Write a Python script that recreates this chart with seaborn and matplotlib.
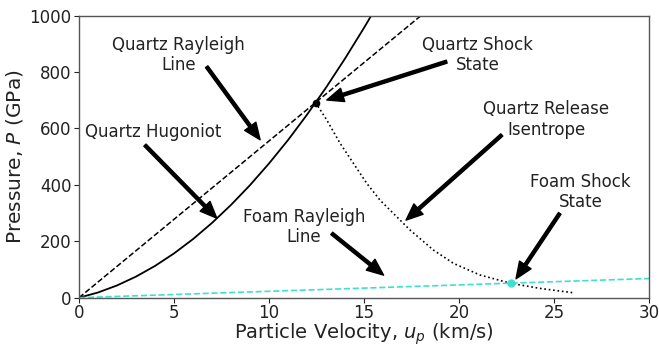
import numpy as np
import pandas as pd
import matplotlib
matplotlib.use("Agg")
import matplotlib.pyplot as plt
import seaborn as sns

# Quartz Hugoniot
hug_up = [0, 1, 2, 3, 4, 5, 6, 7, 8, 9, 10, 11, 12, 13, 14, 15, 15.5]
hug_P = [0, 18.4, 43.4, 74.8, 112.6, 157, 207.8, 265.2, 329, 399.2, 476, 559, 649, 745, 848, 957, 1014]

# Quartz Rayleigh line
qr_up = [0, 12.45, 18.1]
qr_P = [0, 692, 1006]

# Quartz release isentrope
rel_up = [12.45, 13.04, 13.74, 14.44, 15.14, 15.84, 16.72, 17.42, 18.65, 19.7, 21.1, 22.72, 24.26, 25.98]
rel_P = [692, 630, 547.5, 476.6, 405.7, 346, 287, 240, 169, 122, 80.5, 51, 33, 17.7]

# Foam Rayleigh line
fr_up = [0, 30]
fr_P = [0, 68]

# Shock states
quartz_state = (12.45, 692)
foam_state = (22.72, 51.5)

# Annotations: text, text position, arrow tip, arrow start
ann_texts = ["Quartz Rayleigh\nLine", "Quartz Hugoniot", "Quartz Shock\nState",
             "Quartz Release\nIsentrope", "Foam Shock\nState", "Foam Rayleigh\nLine"]
ann_text_xy = [(5.25, 860), (3.9, 589), (20.98, 860), (24.6, 632), (26.4, 375), (11.84, 252)]
ann_tip_xy = [(9.53, 560), (7.25, 282), (13.04, 701), (17.21, 275), (23.0, 67), (16.03, 80)]
ann_start_xy = [(6.72, 819), (3.47, 541), (19.35, 837), (22.25, 577), (25.3, 299), (13.3, 228)]

sns.set_style("ticks")
plt.rcParams['font.family'] = ['DejaVu Sans']

fig = plt.figure(figsize=(6.59, 3.47), dpi=100)
ax = fig.add_axes([0.1199, 0.1421, 0.865, 0.8127])

sns.lineplot(x=hug_up, y=hug_P, ax=ax, color='black', lw=1.3, sort=False)
sns.lineplot(x=qr_up, y=qr_P, ax=ax, color='black', lw=1.1, linestyle='--', sort=False)
sns.lineplot(x=rel_up, y=rel_P, ax=ax, color='black', lw=1.2, linestyle=':', sort=False)
sns.lineplot(x=fr_up, y=fr_P, ax=ax, color='#40E0D0', lw=1.2, linestyle='--', sort=False)
ax.plot([quartz_state[0]], [quartz_state[1]], 'o', color='black', ms=4.5, zorder=5)
ax.plot([foam_state[0]], [foam_state[1]], 'o', color='#40E0D0', ms=5, zorder=5)

for t, txy, tip, st in zip(ann_texts, ann_text_xy, ann_tip_xy, ann_start_xy):
    ax.text(txy[0], txy[1], t, ha='center', va='center', fontsize=12, color='#222222',
            linespacing=1.15)
    ax.annotate("", xy=tip, xytext=st,
                arrowprops=dict(facecolor='black', edgecolor='black', width=2.2,
                                headwidth=10, headlength=12, shrink=0))

ax.set_xlim(0, 30)
ax.set_ylim(0, 1000)
ax.set_xticks([0, 5, 10, 15, 20, 25, 30])
ax.set_yticks([0, 200, 400, 600, 800, 1000])
ax.tick_params(labelsize=12, length=3.5, width=0.8, colors='#222222', pad=2)
ax.tick_params(axis='x', pad=1)
for s in ax.spines.values():
    s.set_color('#555555')
    s.set_linewidth(1.0)
ax.set_xlabel("Particle Velocity, $u_p$ (km/s)", fontsize=14, color='#222222', labelpad=-0.5)
ax.set_ylabel("Pressure, $P$ (GPa)", fontsize=14.5, color='#222222', labelpad=3)

fig.savefig("out.png", dpi=100)
